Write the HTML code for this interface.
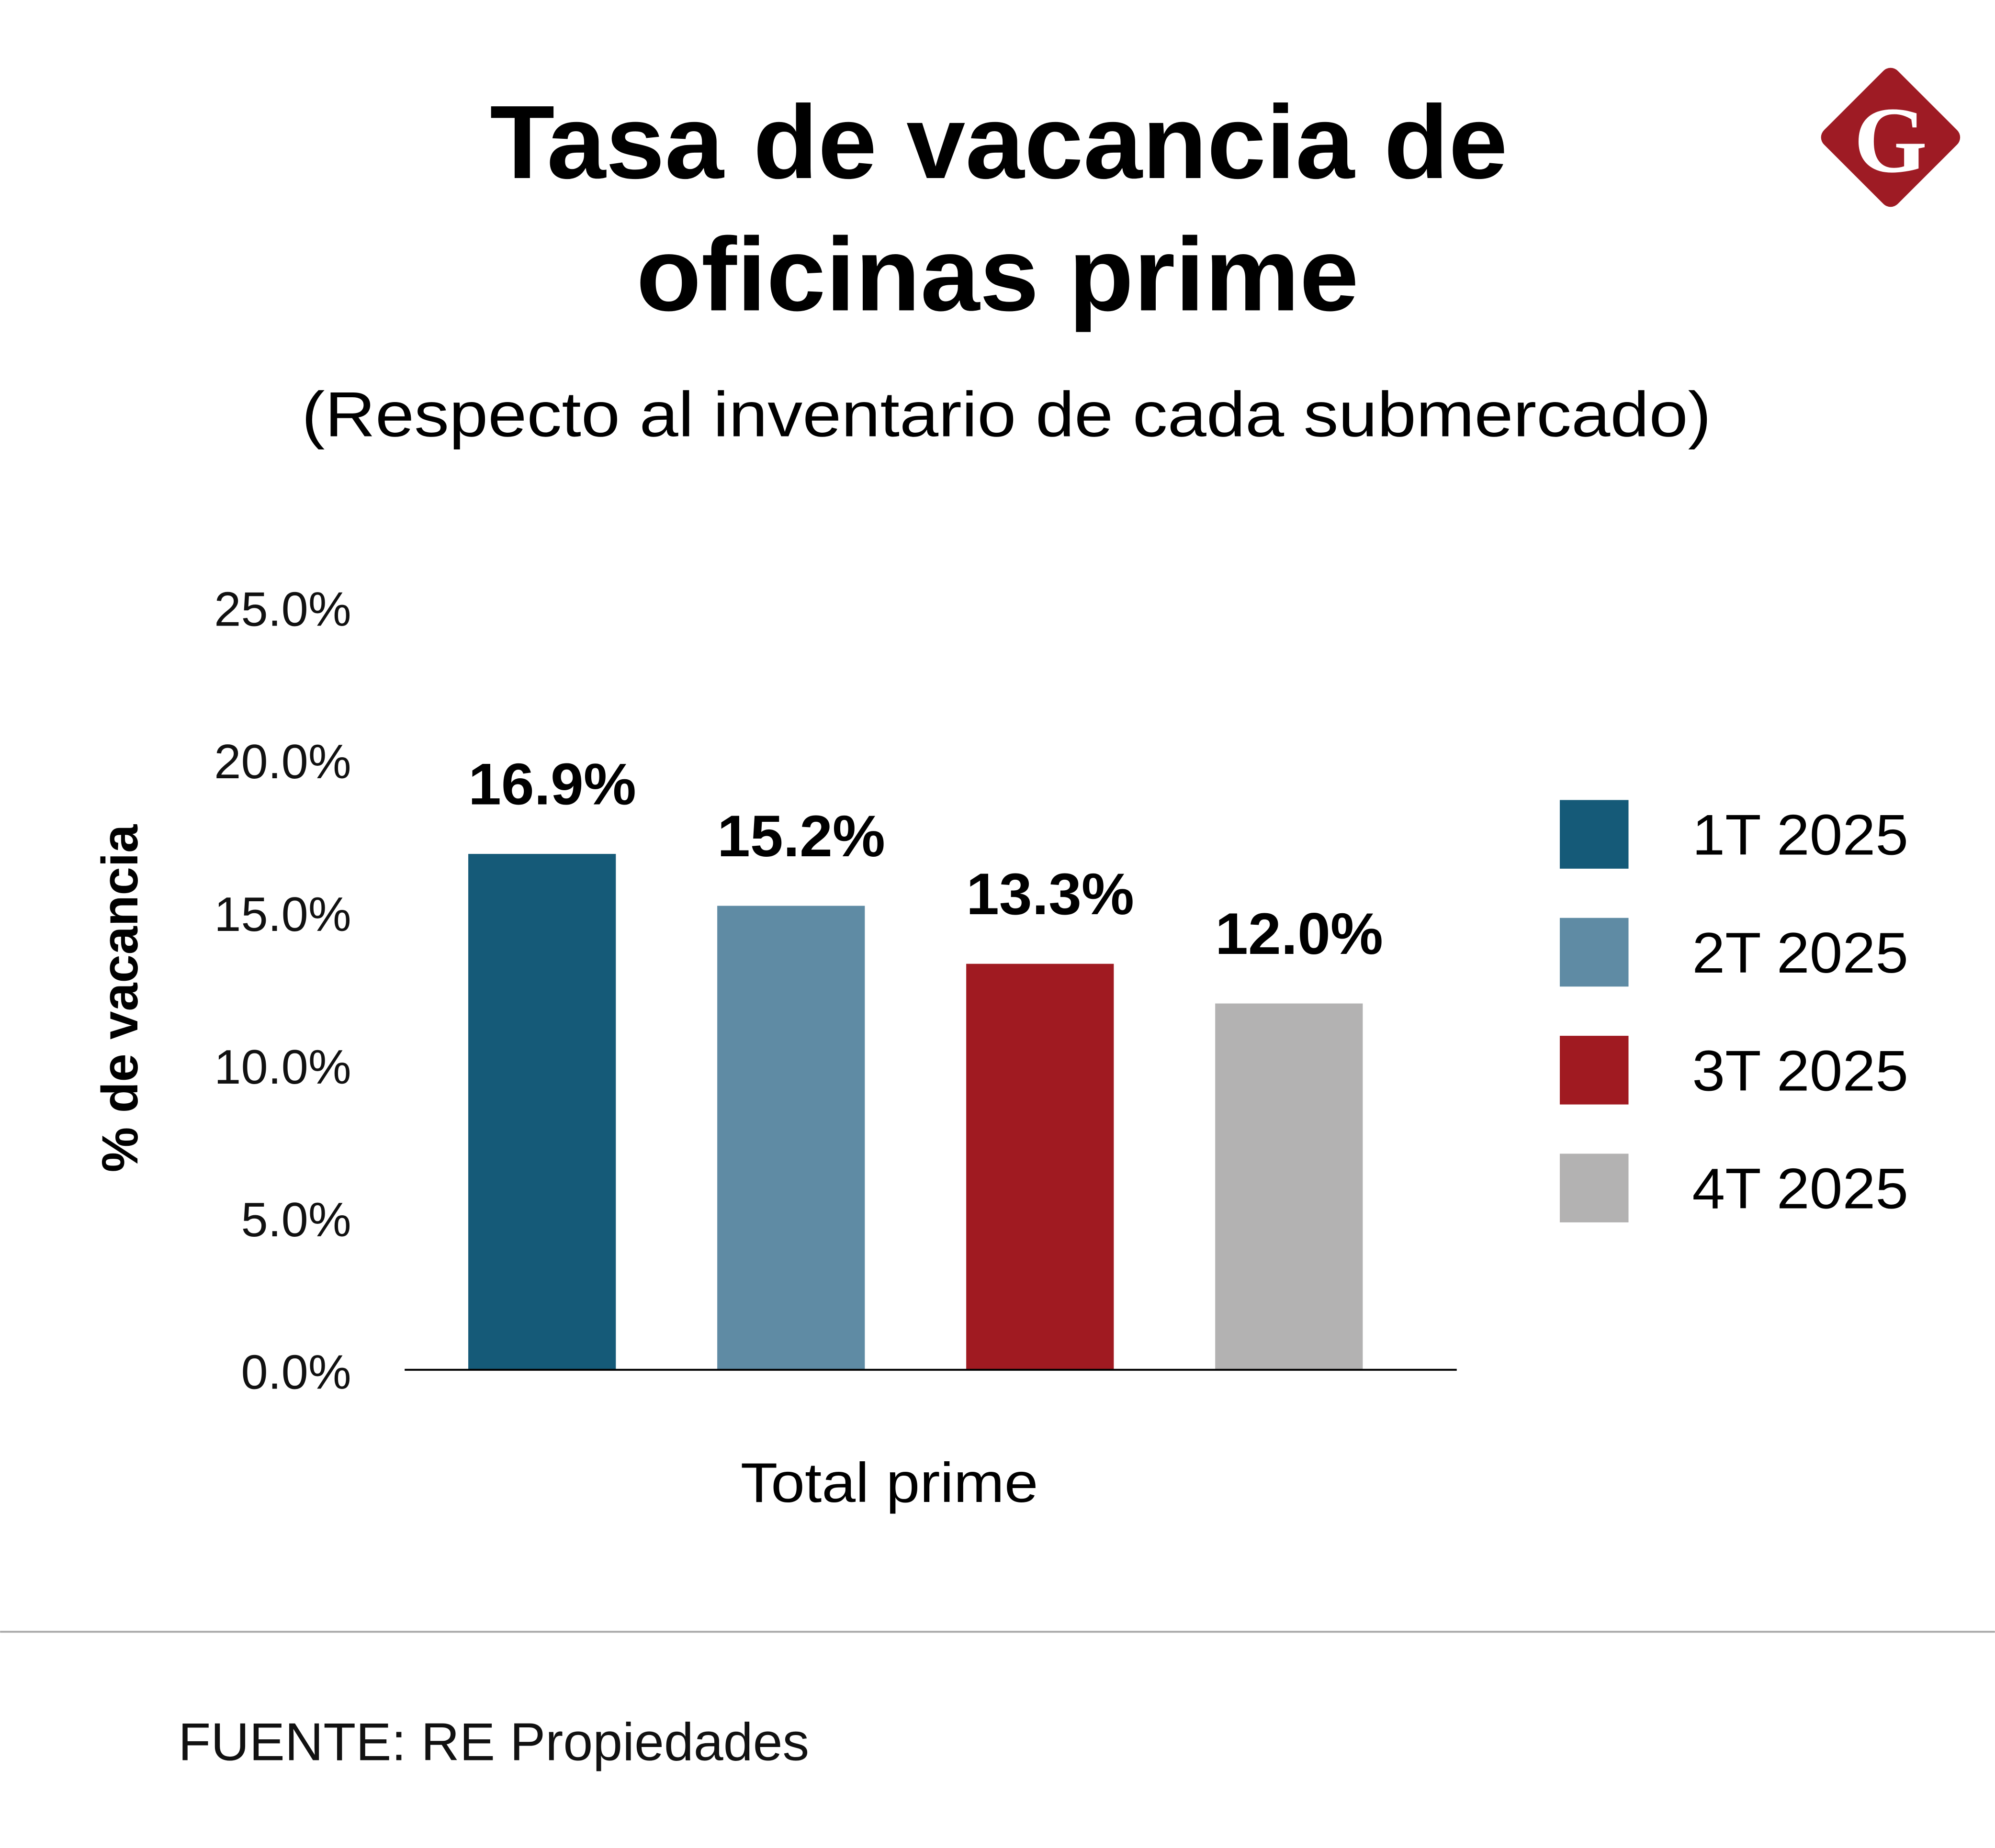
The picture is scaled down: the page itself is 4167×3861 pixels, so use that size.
<!DOCTYPE html>
<html><head><meta charset="utf-8"><style>
html,body{margin:0;padding:0;background:#fff;}
svg{display:block;}
text{font-family:"Liberation Sans",sans-serif;}
</style></head><body>
<svg id="chart" width="4167" height="3861" viewBox="0 0 1568 1453" xmlns="http://www.w3.org/2000/svg">
<rect x="0" y="0" width="1568" height="1453" fill="#fff"/>
<text x="385" y="140" textLength="800" lengthAdjust="spacingAndGlyphs" font-size="82" font-weight="bold" fill="#000">Tasa de vacancia de</text>
<text x="500" y="244" textLength="568" lengthAdjust="spacingAndGlyphs" font-size="82" font-weight="bold" fill="#000">oficinas prime</text>
<text x="237" y="343" textLength="1108" lengthAdjust="spacingAndGlyphs" font-size="50" fill="#000">(Respecto al inventario de cada submercado)</text>
<g>
<rect x="1445" y="67" width="82" height="82" rx="8" transform="rotate(45 1486 108)" fill="#9e1b24"/>
<text x="1486" y="135" text-anchor="middle" style="font-family:'Liberation Serif',serif;font-weight:bold;font-size:74px" fill="#fff">G</text>
</g>
<g id="yaxis"></g>
<g id="bars"></g>
<line x1="318" y1="1077" x2="1145" y2="1077" stroke="#000" stroke-width="1.5"/>
<text transform="translate(108 785) rotate(-90)" text-anchor="middle" font-size="40" font-weight="bold" fill="#000">% de vacancia</text>
<text x="582" y="1181" textLength="234" lengthAdjust="spacingAndGlyphs" font-size="44" fill="#000">Total prime</text>
<g id="legend"></g>
<line x1="0" y1="1283" x2="1568" y2="1283" stroke="#aaa" stroke-width="1.5"/>
<text x="140" y="1384" textLength="496" lengthAdjust="spacingAndGlyphs" font-size="42" fill="#111">FUENTE: RE Propiedades</text>
</svg>
<script>
const seriesNames = ["1T 2025","2T 2025","3T 2025","4T 2025"];
const seriesValues = [16.9, 15.2, 13.3, 12.0];
const valueLabels = ["16.9%","15.2%","13.3%","12.0%"];
const yTicks = [0,5,10,15,20,25];
const yTickLabels = ["0.0%","5.0%","10.0%","15.0%","20.0%","25.0%"];
const colors = ["#155a78","#5f8ba4","#a01a21","#b3b2b2"];

const NS = "http://www.w3.org/2000/svg";
function y(v){ return 1077 - (v/25)*600; }
function bx(i){ return 368 + i*195.7; }
const bw = 116;
function mk(tag, attrs, parent){ const e=document.createElementNS(NS,tag); for(const k in attrs) e.setAttribute(k,attrs[k]); parent.appendChild(e); return e; }

const ya = document.getElementById('yaxis');
yTicks.forEach((t,i)=>{
  const tx = mk('text',{x:276,y:y(t)+15,'text-anchor':'end','font-size':38,fill:'#111'},ya);
  tx.textContent = yTickLabels[i];
  
  
});

const bg = document.getElementById('bars');
seriesValues.forEach((v,i)=>{
  const r = mk('rect',{x:bx(i),y:y(v),width:bw,height:1077-y(v),fill:colors[i]},bg);
  
  
  const t = mk('text',{x:bx(i),y:y(v)-39,textLength:132,lengthAdjust:'spacingAndGlyphs','font-size':46,'font-weight':'bold',fill:'#000'},bg);
  t.textContent = valueLabels[i];
  
  
});

const lg = document.getElementById('legend');
seriesNames.forEach((n,i)=>{
  const yy = 629 + i*92.7;
  const s = mk('rect',{x:1226,y:yy,width:54,height:54,fill:colors[i]},lg);
  
  
  const t = mk('text',{x:1330,y:yy+43,'font-size':45,fill:'#000',textLength:170,lengthAdjust:'spacingAndGlyphs'},lg);
  t.textContent = n;
  
  
});
</script>
</body></html>
